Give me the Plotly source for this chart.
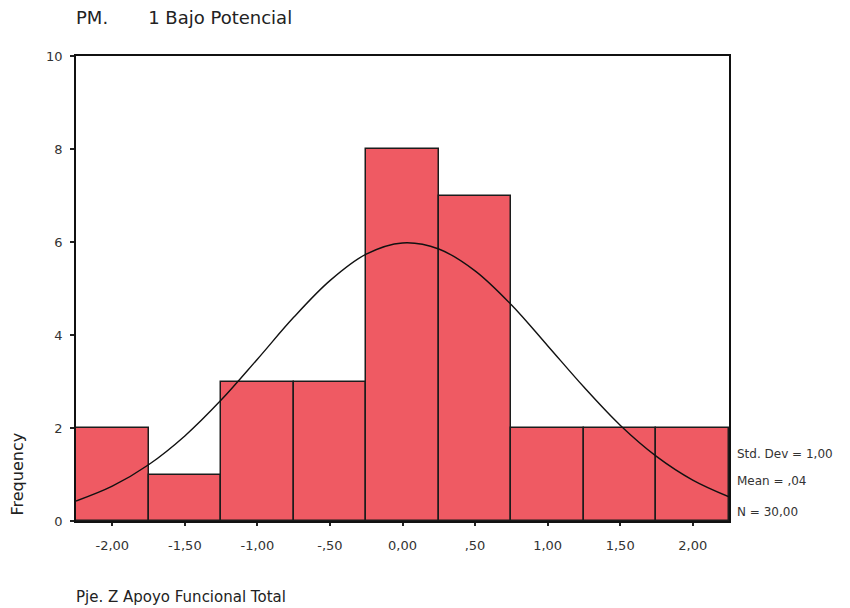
import plotly.graph_objects as go

bin_centers = [-2.0, -1.5, -1.0, -0.5, 0.0, 0.5, 1.0, 1.5, 2.0]
counts = [2, 1, 3, 3, 8, 7, 2, 2, 2]
x_tick_vals = [-2.0, -1.5, -1.0, -0.5, 0.0, 0.5, 1.0, 1.5, 2.0]
x_tick_text = ["-2,00", "-1,50", "-1,00", "-,50", "0,00", ",50", "1,00", "1,50", "2,00"]
y_tick_vals = [0, 2, 4, 6, 8, 10]

# normal curve
curve_x = [-2.25, -2.0, -1.75, -1.5, -1.25, -1.0, -0.75, -0.5, -0.25, 0.0,
           0.25, 0.5, 0.75, 1.0, 1.25, 1.5, 1.75, 2.0, 2.25]
curve_y = [0.43, 0.75, 1.21, 1.83, 2.60, 3.48, 4.38, 5.17, 5.74, 5.98,
           5.85, 5.38, 4.65, 3.77, 2.88, 2.06, 1.39, 0.88, 0.52]

stats_text = ["Std. Dev = 1,00", "Mean = ,04", "N = 30,00"]
stats_y = [1.45, 0.86, 0.19]

font = "DejaVu Sans, Liberation Sans, Arial, sans-serif"

fig = go.Figure()
fig.add_trace(go.Bar(
    x=bin_centers, y=counts, width=0.5,
    marker=dict(color="#EF5A63", line=dict(color="#1c1c1c", width=1.5)),
    hoverinfo="x+y",
))
fig.add_trace(go.Scatter(
    x=curve_x, y=curve_y, mode="lines",
    line=dict(color="#111111", width=1.4, shape="spline"),
))

for t, yv in zip(stats_text, stats_y):
    fig.add_annotation(x=1.0, xref="paper", xanchor="left", xshift=6,
                       y=yv, yref="y", yanchor="middle", text=t, showarrow=False,
                       font=dict(family=font, size=12, color="#333"))

fig.add_annotation(x=0, xref="paper", xshift=-2, y=1, yref="paper", yshift=39,
                   xanchor="left", yanchor="middle",
                   text="PM.&nbsp;&nbsp;&nbsp;&nbsp;&nbsp;&nbsp;&nbsp;1 Bajo Potencial", showarrow=False,
                   font=dict(family=font, size=18, color="#222"))
fig.add_annotation(x=0, xref="paper", xshift=-59, y=1.0, yref="y", yanchor="middle",
                   xanchor="center", text="Frequency", textangle=-90, showarrow=False,
                   font=dict(family=font, size=16, color="#222"))
fig.add_annotation(x=0, xref="paper", xshift=-2, y=0, yref="paper", yshift=-76,
                   xanchor="left", yanchor="middle",
                   text="Pje. Z Apoyo Funcional Total", showarrow=False,
                   font=dict(family=font, size=15, color="#222"))

fig.update_layout(
    width=834, height=600,
    margin=dict(l=68, r=113, t=48, b=87),
    paper_bgcolor="white", plot_bgcolor="white",
    showlegend=False, bargap=0,
    font=dict(family=font, size=13, color="#333"),
    xaxis=dict(range=[-2.25, 2.25], tickvals=x_tick_vals, ticktext=x_tick_text,
               showgrid=False, zeroline=False, showline=True, linecolor="#111",
               linewidth=1.5, mirror=True, ticks="outside", ticklen=3,
               tickwidth=2, tickcolor="#222", tickfont=dict(size=13),
               ticklabelstandoff=9),
    yaxis=dict(range=[0, 10], tickvals=y_tick_vals, showgrid=False, zeroline=False,
               showline=True, linecolor="#111", linewidth=1.5, mirror=True,
               ticks="outside", ticklen=4, tickwidth=2, tickcolor="#222",
               tickfont=dict(size=13), ticklabelstandoff=5),
)

fig.write_html("out.html")
